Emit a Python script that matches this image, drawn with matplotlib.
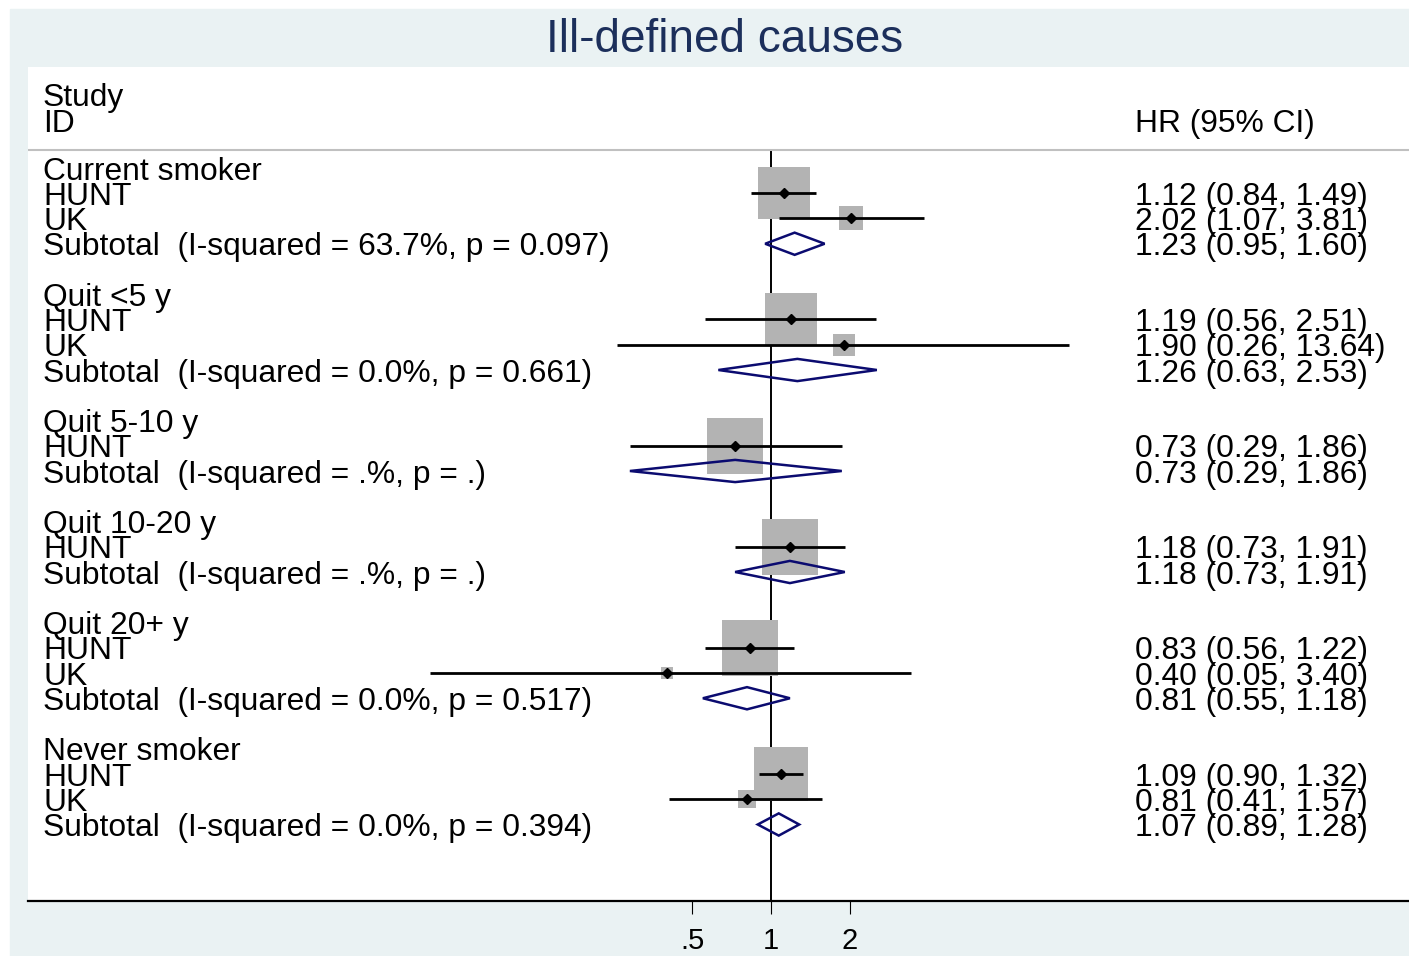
import matplotlib
matplotlib.use("Agg")
import matplotlib.pyplot as plt
import matplotlib.transforms as mtransforms
from matplotlib.patches import Rectangle, Polygon

plt.rcParams['font.family'] = ['Liberation Sans', 'DejaVu Sans']

# hazard ratios by smoking status, HUNT and UK cohorts, with pooled subtotals
group_names = ["Current smoker", "Quit <5 y", "Quit 5-10 y", "Quit 10-20 y",
               "Quit 20+ y", "Never smoker"]

hunt_hr = [1.12, 1.19, 0.73, 1.18, 0.83, 1.09]
hunt_lo = [0.84, 0.56, 0.29, 0.73, 0.56, 0.90]
hunt_hi = [1.49, 2.51, 1.86, 1.91, 1.22, 1.32]
hunt_weight = [81, 85, 100, 100, 95, 91]

uk_hr = [2.02, 1.90, None, None, 0.40, 0.81]
uk_lo = [1.07, 0.26, None, None, 0.05, 0.41]
uk_hi = [3.81, 13.64, None, None, 3.40, 1.57]
uk_weight = [19, 15, None, None, 5, 9]

sub_hr = [1.23, 1.26, 0.73, 1.18, 0.81, 1.07]
sub_lo = [0.95, 0.63, 0.29, 0.73, 0.55, 0.89]
sub_hi = [1.60, 2.53, 1.86, 1.91, 1.18, 1.28]
i_squared = ["63.7", "0.0", ".", ".", "0.0", "0.0"]
p_het = ["0.097", "0.661", ".", ".", "0.517", "0.394"]

x_ticks = [0.5, 1, 2]
x_ticklabels = [".5", "1", "2"]

bg = "#eaf2f3"
title_col = "#1c2f5b"
box_col = "#b3b3b3"
navy = "#0b0b70"
fs = 22.9

W, H = 1409, 956
fig = plt.figure(figsize=(W / 100, H / 100), dpi=100)
fig.patches.append(Rectangle((10 / W, 0), (W - 10) / W, (H - 9) / H,
                             transform=fig.transFigure, color=bg, zorder=-5))
fig.text(725 / W, 1 - 52 / H, "Ill-defined causes", ha="center", va="baseline",
         fontsize=33, color=title_col)

ax = fig.add_axes([28 / W, (H - 901) / H, (W - 28) / W, (901 - 67) / H])
ax.set_facecolor("white")
ax.set_xscale("log")
ax.set_xlim(0.001477, 269.4)
y_bottom = 29.03
ax.set_ylim(y_bottom, -4.0)

for s in ["top", "left", "right"]:
    ax.spines[s].set_visible(False)
ax.spines["bottom"].set_linewidth(1.6)
ax.set_yticks([])
ax.set_xticks(x_ticks)
ax.set_xticklabels(x_ticklabels)
ax.minorticks_off()
ax.tick_params(axis="x", length=9.5, width=0.8, pad=9, labelsize=21)

trans = mtransforms.blended_transform_factory(ax.transAxes, ax.transData)
x_left = (43 - 28) / (W - 28)
x_right = (1135 - 28) / (W - 28)
base = 0.46  # baseline sits a little below the marker row


def label(row, left, right=None):
    ax.text(x_left, row + base, left, transform=trans, fontsize=fs, va="baseline")
    if right is not None:
        ax.text(x_right, row + base, right, transform=trans, fontsize=fs, va="baseline")


def ci_text(hr, lo, hi):
    return f"{hr:.2f} ({lo:.2f}, {hi:.2f})"


def study(row, hr, lo, hi, w):
    ax.scatter([hr], [row], marker="s", s=16.8 * w, color=box_col, lw=0, zorder=2)
    ax.hlines(row, lo, hi, color="black", lw=2, zorder=3)
    ax.plot([hr], [row], marker="D", ms=5, color="black", zorder=4)


# header
ax.text(x_left, -2.9 + base, "Study", transform=trans, fontsize=fs, va="baseline")
label(-1.9, "ID", "HR (95% CI)")
ax.axhline(-0.71, color="#c0c0c0", lw=1.5)
ax.vlines(1, -0.71, y_bottom, color="black", lw=1.4, zorder=1)

row = 0
for g, name in enumerate(group_names):
    label(row, name)
    row += 1
    study(row, hunt_hr[g], hunt_lo[g], hunt_hi[g], hunt_weight[g])
    label(row, "HUNT", ci_text(hunt_hr[g], hunt_lo[g], hunt_hi[g]))
    row += 1
    if uk_hr[g] is not None:
        study(row, uk_hr[g], uk_lo[g], uk_hi[g], uk_weight[g])
        label(row, "UK", ci_text(uk_hr[g], uk_lo[g], uk_hi[g]))
        row += 1
    h = 0.44
    ax.add_patch(Polygon([(sub_lo[g], row), (sub_hr[g], row - h),
                          (sub_hi[g], row), (sub_hr[g], row + h)],
                         closed=True, fill=False, edgecolor=navy, lw=1.8, zorder=5))
    label(row, f"Subtotal  (I-squared = {i_squared[g]}%, p = {p_het[g]})",
          ci_text(sub_hr[g], sub_lo[g], sub_hi[g]))
    row += 2

fig.savefig("out.png", dpi=100)
